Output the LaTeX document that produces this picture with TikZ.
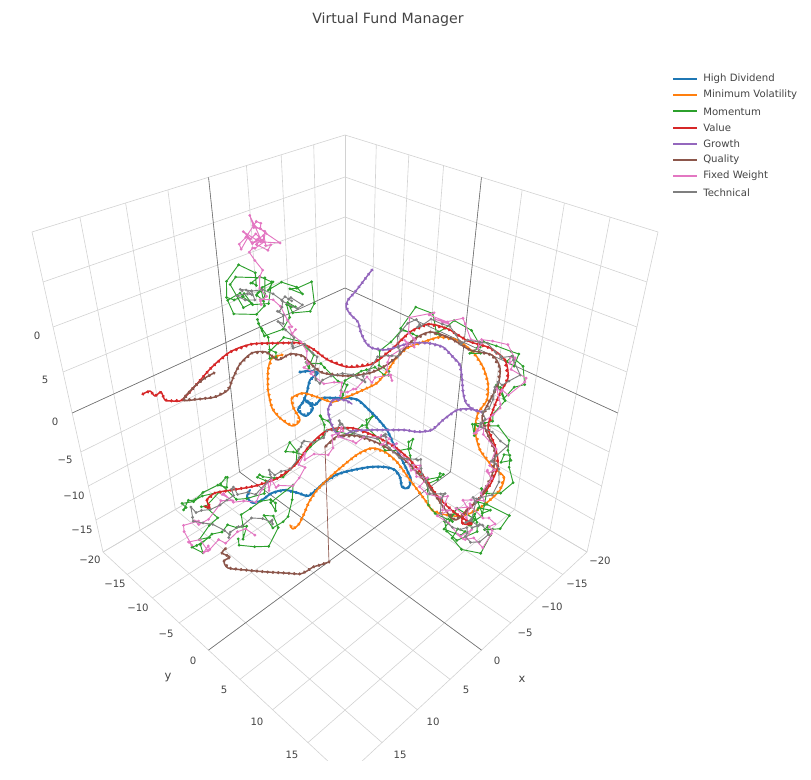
\documentclass[tikz,border=0pt]{standalone}
\usepackage{fontspec}
\setmainfont{DejaVu Sans}
\usetikzlibrary{calc,decorations.markings}

\definecolor{plblue}{HTML}{1F77B4}
\definecolor{plorange}{HTML}{FF7F0E}
\definecolor{plgreen}{HTML}{2CA02C}
\definecolor{plred}{HTML}{D62728}
\definecolor{plpurple}{HTML}{9467BD}
\definecolor{plbrown}{HTML}{8C564B}
\definecolor{plpink}{HTML}{E377C2}
\definecolor{plgray}{HTML}{7F7F7F}
\definecolor{gridc}{HTML}{D2D2D2}
\definecolor{zeroc}{HTML}{6E6E6E}
\definecolor{textc}{HTML}{444444}

\tikzset{
  grid line/.style={draw=gridc, line width=0.45pt},
  zero line/.style={draw=zeroc, line width=0.45pt},
  tick/.style={text=textc, font=\fontsize{7.6}{9}\selectfont, inner sep=0pt},
  legtext/.style={text=textc, font=\fontsize{7.6}{9}\selectfont, anchor=west, inner sep=0pt},
}

\newcommand\dense[3][1.1pt]{%
  \draw[#2, line width=#1, line join=round, line cap=round] plot[smooth, tension=0.5] coordinates {#3};
  \path[decorate, decoration={markings,
    mark=between positions 0 and 1 step 4pt with {\fill[#2] (0,0) circle (1.3pt);}}]
    plot coordinates {#3};
}

\newcommand\jagged[5]{%
  \pgfmathsetseed{#2}%
  \path[decorate, decoration={markings,
    mark=between positions 0 and 1 step 4.5pt with {%
      \pgfmathtruncatemacro\jn{\pgfkeysvalueof{/pgf/decoration/mark info/sequence number}}%
      \coordinate (j\jn) at ({#3*cos(50*\jn+#2)+#4*rand},{#3*sin(50*\jn+#2)+#4*rand});%
      \xdef\jlast{\jn}}}]
    plot coordinates {#5};
  \draw[#1, line width=0.7pt, line join=round] (j1) \foreach \i in {2,...,\jlast} {-- (j\i)};
  \foreach \i in {1,...,\jlast} \fill[#1] (j\i) circle (1.15pt);
}

\begin{document}
\begin{tikzpicture}[x=0.75pt, y=-0.75pt]
\useasboundingbox (0,0) rectangle (811,780);

\coordinate (TB) at (345,135);
\coordinate (TL) at (32,232);
\coordinate (TR) at (658,232);
\coordinate (BB) at (345,410);
\coordinate (BL) at (103,552);
\coordinate (BR) at (587,552);
\coordinate (FF) at (345,777);

\foreach \l/\b in {232/135, 282/177, 327/217, 372/255, 413/288, 452/321, 486/350, 520/380, 552/410} {
  \pgfmathsetmacro\xl{32+(\l-232)*0.221875}
  \draw[grid line] (\xl,\l) -- (345,\b);
  \draw[grid line] (690-\xl,\l) -- (345,\b);
}
\foreach \f in {0,.10,.204,.315,.436,.566,.701,.847,1} {
  \draw[grid line] ($(TB)!\f!(TL)$) -- ($(BB)!\f!(BL)$);
  \draw[grid line] ($(TB)!\f!(TR)$) -- ($(BB)!\f!(BR)$);
}
\begin{scope}
  \clip (0,0) rectangle (811,760);
  \foreach \f in {0,.10,.204,.315,.436,.566,.701,.847,1} {
    \draw[grid line] ($(BB)!\f!(BL)$) -- ($(BR)!\f!(FF)$);
    \draw[grid line] ($(BL)!\f!(FF)$) -- ($(BB)!\f!(BR)$);
  }
  \draw[zero line] ($(BB)!.436!(BL)$) -- ($(BR)!.436!(FF)$);
  \draw[zero line] ($(BL)!.436!(FF)$) -- ($(BB)!.436!(BR)$);
\end{scope}
\draw[zero line] (72.2,413) -- (345,288) -- (617.8,413);
\draw[zero line] ($(TB)!.436!(TL)$) -- ($(BB)!.436!(BL)$);
\draw[zero line] ($(TB)!.436!(TR)$) -- ($(BB)!.436!(BR)$);

\dense[1.5pt]{plblue}{(300,372) (310,371) (318,373) (310,380) (307,392) (303,402) (298,410) (306,416) (313,408) (305,400) (315,405) (322,398) (335,398) (348,398) (358,400) (367,408) (377,418) (387,430) (393,443) (398,452) (402,460) (407,470) (411,480) (408,488) (402,487) (400,477) (395,470) (385,467) (370,467) (353,470) (338,474) (326,481) (316,490) (308,496) (298,493) (285,490) (272,493) (262,500) (253,503) (247,497) (250,490)}

\dense{plorange}{(282,355) (272,358) (268,370) (268,390) (272,408) (280,418) (292,426) (300,420) (293,407) (292,398) (303,393) (317,397) (332,402) (347,397) (363,390) (377,383) (388,370) (397,357) (407,348) (423,342) (440,337) (457,340) (473,352) (483,367) (488,383) (487,400) (478,413) (475,430) (480,450) (493,467) (504,477) (500,490) (490,500) (477,510) (462,516) (447,515) (433,511) (425,500) (410,480) (397,462) (385,452) (372,448) (358,454) (345,464) (330,477) (317,490) (309,502) (304,514) (299,524) (293,529) (290,525)}

\jagged{plgreen}{11}{10}{4.5}{(266,292) (261,305) (248,310) (235,305) (230,292) (235,279) (248,274) (261,279) (266,292) (258,300) (245,302) (240,290) (250,282) (272,290) (280,298) (284,288) (294,284) (304,288) (308,298) (304,308) (294,312) (284,308) (282,320) (268,330) (250,335) (262,350) (290,348) (310,360) (318,378) (340,385) (365,378) (385,362) (400,338) (415,318) (440,325) (465,340) (490,352) (515,355) (522,375) (505,392) (485,405) (478,425) (495,440) (510,455) (500,480) (485,500) (470,515) (485,505) (500,512) (495,530) (478,545) (460,540) (452,525) (462,512) (475,520) (465,535) (448,525) (440,505) (435,480) (415,455) (385,435) (355,422) (322,422) (305,440) (285,465) (260,485) (235,490) (215,485) (195,488) (188,500) (200,510) (215,500) (210,520) (195,530) (205,545) (225,540) (240,525) (255,515) (270,500) (285,495) (280,520) (265,535) (245,540)}

\dense{plred}{(143,394) (150,391) (155,396) (161,392) (165,400) (173,401) (182,400) (196,385) (212,367) (230,352) (252,344) (280,343) (300,343) (313,349) (328,360) (348,367) (372,364) (392,349) (410,332) (428,324) (448,329) (468,341) (490,348) (505,360) (508,378) (500,393) (493,410) (488,428) (495,446) (498,465) (490,485) (478,500) (465,512) (462,523) (472,524) (455,513) (438,497) (425,478) (410,460) (395,447) (375,436) (352,428) (328,430) (310,445) (295,465) (278,478) (255,486) (232,490) (215,493) (207,500) (210,508) (204,506)}

\dense{plpurple}{(372,270) (368,275) (362,283) (355,292) (348,300) (346,307) (351,315) (358,322) (361,333) (366,343) (372,348) (385,350) (397,347) (410,343) (428,343) (443,347) (453,357) (460,365) (462,378) (463,392) (466,403) (474,410) (482,412) (470,409) (457,410) (443,420) (432,430) (418,432) (405,430) (390,430) (370,430) (352,431) (342,437) (334,430) (330,420) (328,410) (333,400) (345,400) (352,404)}

\dense{plbrown}{(214,373) (205,378) (195,386) (183,400) (200,399) (215,397) (228,390) (233,378) (240,364) (252,353) (266,352) (278,360) (290,354) (303,356) (313,366) (323,373) (347,376) (370,373) (385,366) (398,356) (413,340) (430,332) (450,338) (470,350) (492,355) (500,368) (498,385) (490,400) (482,418) (488,435) (495,452) (492,475) (482,495) (470,508) (455,520) (442,505) (430,488) (415,470) (400,456) (380,444) (358,436) (338,436) (325,447)}
\coordinate (qa) at (325,447);
\coordinate (qb) at (329,562);
\draw[plbrown, line width=0.5pt] (qa) -- (qb);
\dense{plbrown}{(329,562) (320,565) (313,567) (307,571) (300,574) (285,573) (267,572) (245,570) (228,568) (224,561) (230,557) (222,553) (226,548)}

\jagged{plpink}{23}{5}{6.5}{(258,238) (246,226) (266,250) (272,230) (246,248) (258,222) (270,246) (244,236) (262,240) (258,255) (258,275) (262,290) (275,305) (285,320) (295,332) (305,350) (312,370) (325,388) (350,390) (372,385) (390,368) (405,345) (420,322) (440,318) (462,330) (485,342) (505,348) (518,362) (515,385) (495,402) (478,425) (483,445) (492,468) (480,495) (462,515) (480,510) (495,525) (475,540) (455,535) (440,505) (430,485) (412,462) (390,445) (362,435) (335,438) (315,452) (295,470) (268,490) (240,498) (215,505) (192,525) (185,540) (200,548) (225,545) (245,530)}

\jagged{plgray}{37}{6}{3}{(245,285) (255,296) (250,300) (240,292) (252,288) (262,296) (275,300) (290,295) (298,300) (292,308) (285,300) (282,318) (275,325) (290,338) (305,350) (314,368) (320,378) (345,380) (368,375) (388,358) (403,335) (418,320) (442,328) (463,340) (488,348) (510,357) (512,375) (498,390) (482,412) (488,432) (500,448) (495,470) (487,492) (472,508) (462,520) (478,522) (490,530) (470,540) (455,525) (440,500) (428,478) (408,455) (382,438) (355,428) (325,428) (308,442) (290,463) (265,482) (238,493) (212,505) (195,515) (200,525) (220,530) (250,528) (275,515)}

\node[text=textc, font=\fontsize{10.6}{13}\selectfont] (title) at (388,20) {Virtual Fund Manager};

\foreach \t/\px/\py [count=\i] in {0/37/336, 5/45/380, 0/55/422, −5/65/460, −10/74/496, −15/82/530, −20/90/560}
  \node[tick] (zt\i) at (\px,\py) {\t};
\foreach \t/\px/\py [count=\i] in {−15/115/584, −10/138/608, −5/166/634, 0/193/661, 5/224/690, 10/257/722, 15/292/755}
  \node[tick] (yt\i) at (\px,\py) {\t};
\foreach \t/\px/\py [count=\i] in {−20/600/561, −15/577/584, −10/552/607, −5/525/633, 0/497/661, 5/466/690, 10/433/722, 15/400/755}
  \node[tick] (xt\i) at (\px,\py) {\t};
\node[tick, font=\fontsize{8.6}{10}\selectfont] (ylab) at (168,678) {y};
\node[tick, font=\fontsize{8.6}{10}\selectfont] (xlab) at (522,679) {x};

\foreach \c/\t [count=\i] in {plblue/High Dividend, plorange/Minimum Volatility, plgreen/Momentum, plred/Value, plpurple/Growth, plbrown/Quality, plpink/Fixed Weight, plgray/Technical} {
  \pgfmathsetmacro\ly{79+(\i-1)*16.2}
  \draw[\c, line width=1.5pt] (673,\ly) -- (697,\ly);
  \node[legtext] (leg\i) at (703,\ly) {\t};
}
\end{tikzpicture}
\end{document}
